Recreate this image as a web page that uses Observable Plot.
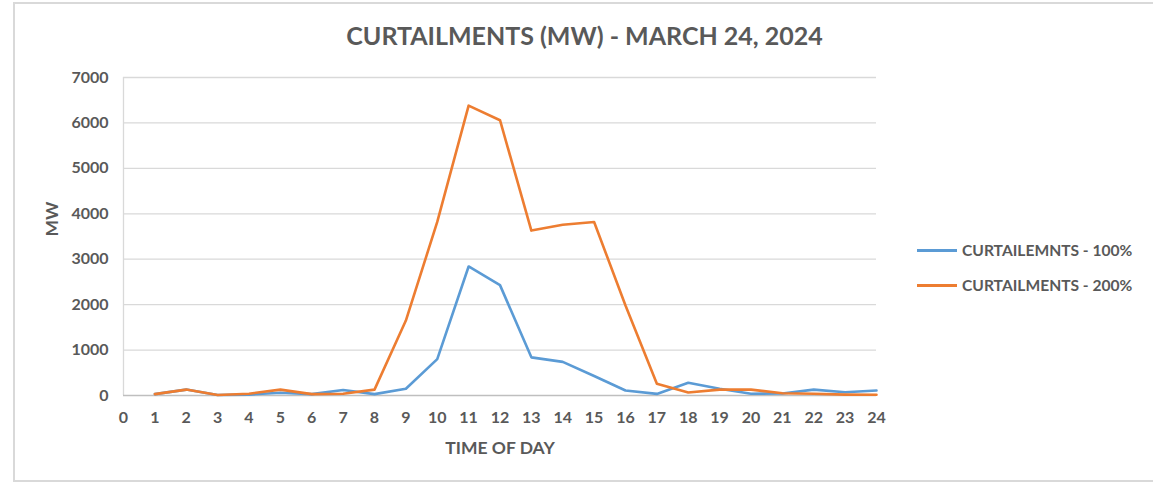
<!DOCTYPE html>
<html>
<head>
<meta charset="utf-8">
<script src="https://cdn.jsdelivr.net/npm/d3@7"></script>
<script src="https://cdn.jsdelivr.net/npm/@observablehq/plot@0.6"></script>
<style>
  body { margin: 0; background: #fff; font-family: Lato, "Open Sans", sans-serif; }
  #wrap { position: relative; width: 1153px; height: 485px; overflow: hidden; }
  #border { position: absolute; left: 13px; top: 2px; width: 1160px; height: 480px; border: 2px solid #d9d9d9; box-sizing: border-box; }
  #title { position: absolute; left: 0; width: 1169px; top: 20px; text-align: center; font-weight: bold; font-size: 25px; color: #595959; }
  #chart { position: absolute; left: 0; top: 0; }
  .leg { position: absolute; left: 917px; font-weight: bold; font-size: 15.6px; color: #595959; display: flex; align-items: center; }
  .leg span.sw { display: inline-block; width: 40px; height: 3px; margin-right: 5px; }
</style>
</head>
<body>
<div id="wrap">
  <div id="border"></div>
  <div id="chart"></div>
  <div id="title">CURTAILMENTS (MW) - MARCH 24, 2024</div>
  <div class="leg" style="top:241px"><span class="sw" style="background:#5b9bd5"></span>CURTAILEMNTS - 100%</div>
  <div class="leg" style="top:276px"><span class="sw" style="background:#ed7d31"></span>CURTAILMENTS - 200%</div>
</div>
<script>
const hours = [1,2,3,4,5,6,7,8,9,10,11,12,13,14,15,16,17,18,19,20,21,22,23,24];
const curtailments100 = [30,130,10,20,60,30,120,30,150,800,2840,2430,840,740,430,110,35,280,150,40,45,130,70,110];
const curtailments200 = [30,130,10,40,130,30,40,130,1650,3820,6380,6060,3630,3760,3820,1980,260,65,130,130,50,40,20,15];
const seriesNames = ["CURTAILEMNTS - 100%", "CURTAILMENTS - 200%"];
const seriesColors = ["#5b9bd5", "#ed7d31"];
const xTicks = d3.range(0, 25);
const yTicks = [0,1000,2000,3000,4000,5000,6000,7000];

const data = [];
hours.forEach((h, i) => {
  data.push({hour: h, value: curtailments100[i], series: seriesNames[0]});
  data.push({hour: h, value: curtailments200[i], series: seriesNames[1]});
});

const chart = Plot.plot({
  width: 1153,
  height: 485,
  marginLeft: 123,
  marginRight: 277,
  marginTop: 77,
  marginBottom: 90,
  style: {fontFamily: "Lato, 'Open Sans', sans-serif", fontSize: "16px", fontWeight: "bold", color: "#595959", background: "transparent"},
  x: {domain: [0, 24], ticks: xTicks, tickFormat: d => String(d), tickSize: 0, tickPadding: 16, label: null},
  y: {domain: [0, 7000], ticks: yTicks, tickFormat: d => String(d), tickSize: 0, tickPadding: 16, label: null},
  color: {domain: seriesNames, range: seriesColors},
  marks: [
    Plot.gridY(yTicks.filter(d => d > 0), {stroke: "#d9d9d9", strokeOpacity: 1, strokeWidth: 1.3}),
    Plot.ruleX([0], {stroke: "#d9d9d9", strokeWidth: 1.3}),
    Plot.ruleY([0], {stroke: "#bfbfbf", strokeWidth: 1.5}),
    Plot.axisX({ticks: xTicks, tickFormat: d => String(d), tickSize: 0, tickPadding: 16, label: null, fill: "#595959"}),
    Plot.axisY({ticks: yTicks, tickFormat: d => String(d), tickSize: 0, tickPadding: 15, label: null, fill: "#595959"}),
    Plot.line(data, {x: "hour", y: "value", stroke: "series", strokeWidth: 2.6, strokeLinejoin: "round"}),
    Plot.text(["TIME OF DAY"], {frameAnchor: "bottom", dy: 58, fontSize: 17.5, fontWeight: "bold", fill: "#595959"}),
    Plot.text(["MW"], {frameAnchor: "left", dx: -71, rotate: -90, fontSize: 17.5, fontWeight: "bold", fill: "#595959"})
  ]
});
document.getElementById("chart").appendChild(chart);
</script>
</body>
</html>
